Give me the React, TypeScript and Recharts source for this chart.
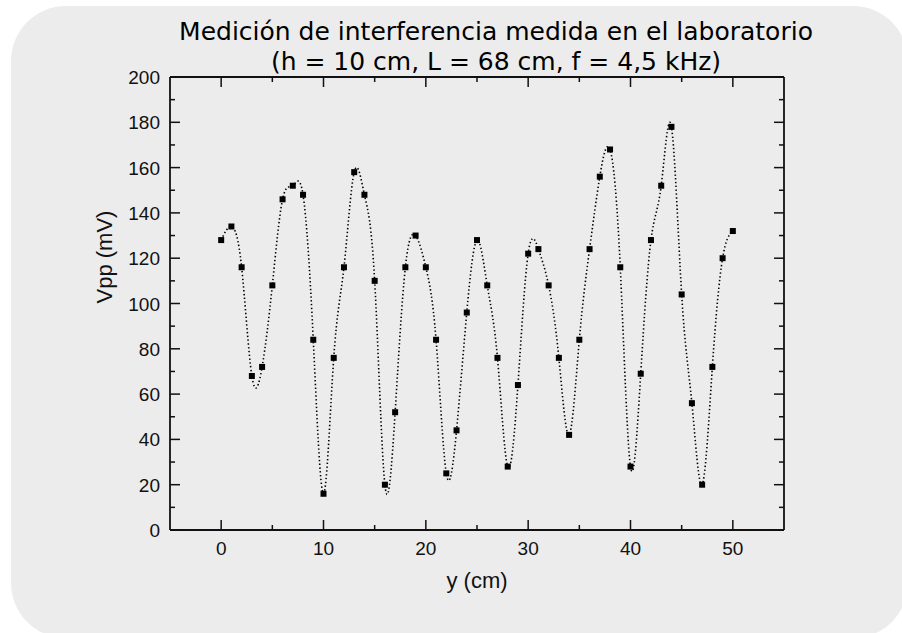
import React from "react";
import { ComposedChart, Line, Scatter, XAxis, YAxis } from "recharts";

const positions = [0, 1, 2, 3, 4, 5, 6, 7, 8, 9, 10, 11, 12, 13, 14, 15, 16, 17, 18, 19, 20, 21, 22, 23, 24, 25, 26, 27, 28, 29, 30, 31, 32, 33, 34, 35, 36, 37, 38, 39, 40, 41, 42, 43, 44, 45, 46, 47, 48, 49, 50];
const vpp = [128, 134, 116, 68, 72, 108, 146, 152, 148, 84, 16, 76, 116, 158, 148, 110, 20, 52, 116, 130, 116, 84, 25, 44, 96, 128, 108, 76, 28, 64, 122, 124, 108, 76, 42, 84, 124, 156, 168, 116, 28, 69, 128, 152, 178, 104, 56, 20, 72, 120, 132];
const xTicks = [0, 5, 10, 15, 20, 25, 30, 35, 40, 45, 50];
const yTicks = [0, 10, 20, 30, 40, 50, 60, 70, 80, 90, 100, 110, 120, 130, 140, 150, 160, 170, 180, 190, 200];
const titleLine1 = "Medición de interferencia medida en el laboratorio";
const titleLine2 = "(h = 10 cm, L = 68 cm, f = 4,5 kHz)";
const xLabel = "y (cm)";
const yLabel = "Vpp (mV)";

const data = positions.map((x, i) => ({ x, v: vpp[i] }));

const FONT = "'Liberation Sans', Arial, sans-serif";
const AX = "#111";

const BottomTick = (props: any) => {
  const { x, y, payload } = props;
  const major = payload.value % 10 === 0;
  return (
    <g>
      <line x1={x} y1={y} x2={x} y2={y - (major ? 10 : 5)} stroke={AX} strokeWidth={1.5} />
      {major && (
        <text x={x} y={y + 25} textAnchor="middle" fontFamily={FONT} fontSize={19} fill="#111">
          {payload.value}
        </text>
      )}
    </g>
  );
};

const TopTick = (props: any) => {
  const { x, y, payload } = props;
  const major = payload.value % 10 === 0;
  return <line x1={x} y1={y} x2={x} y2={y + (major ? 10 : 5)} stroke={AX} strokeWidth={1.5} />;
};

const LeftTick = (props: any) => {
  const { x, y, payload } = props;
  const major = payload.value % 20 === 0;
  return (
    <g>
      <line x1={x} y1={y} x2={x + (major ? 10 : 5)} y2={y} stroke={AX} strokeWidth={1.5} />
      {major && (
        <text x={x - 10} y={y + 7} textAnchor="end" fontFamily={FONT} fontSize={19} fill="#111">
          {payload.value}
        </text>
      )}
    </g>
  );
};

const RightTick = (props: any) => {
  const { x, y, payload } = props;
  const major = payload.value % 20 === 0;
  return <line x1={x} y1={y} x2={x - (major ? 10 : 5)} y2={y} stroke={AX} strokeWidth={1.5} />;
};

const SquareDot = (props: any) => {
  const { cx, cy } = props;
  if (cx == null || cy == null) return null;
  return <rect x={cx - 3} y={cy - 3} width={6} height={6} fill="#000" />;
};

export default function App() {
  return (
    <div style={{ position: "absolute", left: 0, top: 0, width: 902, height: 633, overflow: "hidden", background: "#fff" }}>
      <div
        style={{
          position: "absolute",
          left: 11,
          top: 6,
          width: 897,
          height: 632,
          borderRadius: 55,
          background: "#ececec",
        }}
      />
      <div style={{ position: "absolute", left: 0, top: 0 }}>
        <ComposedChart
          width={902}
          height={633}
          data={data}
          margin={{ top: 67, right: 108, bottom: 63, left: 100 }}
        >
          <text x={496} y={40} textAnchor="middle" fontFamily="'DejaVu Sans', sans-serif" fontSize={25} fill="#000">
            {titleLine1}
          </text>
          <text x={496} y={70} textAnchor="middle" fontFamily="'DejaVu Sans', sans-serif" fontSize={25} fill="#000">
            {titleLine2}
          </text>
          <XAxis
            xAxisId="b"
            dataKey="x"
            type="number"
            domain={[-5, 55]}
            ticks={xTicks}
            interval={0}
            height={40}
            tickSize={0}
            tickMargin={0}
            tickLine={false}
            axisLine={{ stroke: AX, strokeWidth: 1.8 }}
            tick={<BottomTick />}
            label={{ value: xLabel, position: "insideBottom", offset: -18, fontFamily: FONT, fontSize: 22, fill: "#111" } as any}
          />
          <XAxis
            xAxisId="t"
            orientation="top"
            dataKey="x"
            type="number"
            domain={[-5, 55]}
            ticks={xTicks}
            interval={0}
            height={10}
            tickSize={0}
            tickMargin={0}
            tickLine={false}
            axisLine={{ stroke: AX, strokeWidth: 1.8 }}
            tick={<TopTick />}
          />
          <YAxis
            yAxisId="l"
            type="number"
            domain={[0, 200]}
            ticks={yTicks}
            interval={0}
            width={70}
            tickSize={0}
            tickMargin={0}
            tickLine={false}
            axisLine={{ stroke: AX, strokeWidth: 1.8 }}
            tick={<LeftTick />}
            label={{ value: yLabel, angle: -90, position: "insideLeft", offset: 4, fontFamily: FONT, fontSize: 22, fill: "#111" } as any}
          />
          <YAxis
            yAxisId="r"
            orientation="right"
            type="number"
            domain={[0, 200]}
            ticks={yTicks}
            interval={0}
            width={10}
            tickSize={0}
            tickMargin={0}
            tickLine={false}
            axisLine={{ stroke: AX, strokeWidth: 1.8 }}
            tick={<RightTick />}
          />
          <Line
            xAxisId="b"
            yAxisId="l"
            type="natural"
            dataKey="v"
            stroke="#000"
            strokeWidth={1.6}
            strokeDasharray="1.4 2.4"
            dot={false}
            activeDot={false}
            isAnimationActive={false}
          />
          <Line
            xAxisId="t"
            yAxisId="r"
            type="linear"
            dataKey="v"
            stroke="none"
            dot={false}
            activeDot={false}
            isAnimationActive={false}
          />
          <Scatter
            xAxisId="b"
            yAxisId="l"
            dataKey="v"
            fill="#000"
            shape={<SquareDot />}
            isAnimationActive={false}
          />
        </ComposedChart>
      </div>
    </div>
  );
}
